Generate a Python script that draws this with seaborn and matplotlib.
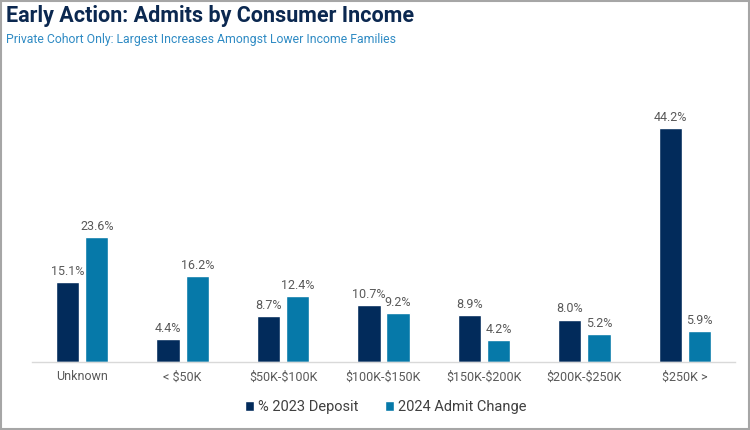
import pandas as pd
import seaborn as sns
import matplotlib.pyplot as plt
from matplotlib.patches import Rectangle

# === dados ===
CATEGORIES = ["Unknown", "< $50K", "$50K-$100K", "$100K-$150K",
              "$150K-$200K", "$200K-$250K", "$250K >"]
DEPOSIT_2023 = [15.1, 4.4, 8.7, 10.7, 8.9, 8.0, 44.2]
ADMIT_CHANGE_2024 = [23.6, 16.2, 12.4, 9.2, 4.2, 5.2, 5.9]
SERIES = ["% 2023 Deposit", "2024 Admit Change"]

NAVY = "#022b5b"
TEAL = "#0679a9"
GRAY = "#595959"

df = pd.DataFrame({
    "categoria": CATEGORIES * 2,
    "valor": DEPOSIT_2023 + ADMIT_CHANGE_2024,
    "serie": [SERIES[0]] * len(CATEGORIES) + [SERIES[1]] * len(CATEGORIES),
})

sns.set_theme(style="white")
plt.rcParams["font.family"] = ["Roboto", "DejaVu Sans"]
plt.rcParams["text.parse_math"] = False  # "$" nos rótulos

fig = plt.figure(figsize=(7.5, 4.3), dpi=100)
ax = fig.add_axes([32 / 750, 1 - 362 / 430, 703 / 750, 290 / 430])

sns.barplot(data=df, x="categoria", y="valor", hue="serie",
            palette=[NAVY, TEAL], width=0.58, gap=0.2, ax=ax,
            order=CATEGORIES, hue_order=SERIES, saturation=1)

for cont in ax.containers:
    ax.bar_label(cont, labels=[f"{v:.1f}%" for v in cont.datavalues],
                 padding=3, fontsize=9, color=GRAY)

ax.set_xlim(-0.5, 6.5)
ax.set_ylim(0, 44.2 * 290 / 234)
ax.set_xlabel("")
ax.set_ylabel("")
ax.set_yticks([])
ax.tick_params(axis="x", length=0, labelsize=9, labelcolor=GRAY, pad=6)
for s in ["top", "right", "left"]:
    ax.spines[s].set_visible(False)
ax.spines["bottom"].set_color("#d9d9d9")
ax.spines["bottom"].set_linewidth(1)

ax.legend(loc="upper center", ncol=2, frameon=False,
          fontsize=10.5, handlelength=0.6, handleheight=0.6,
          handletextpad=0.3, columnspacing=1.8,
          labelcolor="#404040")
leg = ax.get_legend()
leg.set_bbox_to_anchor((386 / 750, 1 - 387 / 430), transform=fig.transFigure)

fig.text(6 / 750, 1 - 16 / 430, "Early Action: Admits by Consumer Income",
         fontsize=15.5, fontweight="bold", color="#0b2850", va="center")
fig.text(6 / 750, 1 - 40 / 430,
         "Private Cohort Only: Largest Increases Amongst Lower Income Families",
         fontsize=8.8, color="#2f8bc4", va="center")

fig.add_artist(Rectangle((0.5 / 750, 1 - 428.5 / 430), 748 / 750, 428 / 430,
                         transform=fig.transFigure, fill=False,
                         edgecolor="#a6a6a6", linewidth=1.5))

fig.savefig("out.png", dpi=100)
